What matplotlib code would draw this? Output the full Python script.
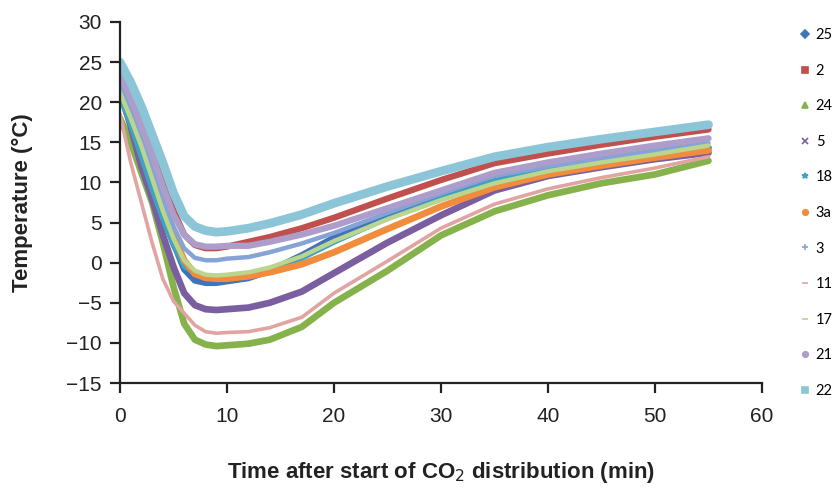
import matplotlib
matplotlib.use("Agg")
import matplotlib.pyplot as plt
from matplotlib.lines import Line2D

# Minutes after start of CO2 distribution
t = [0, 1, 2, 3, 4, 5, 6, 7, 8, 9, 10, 12, 14, 17, 20, 25, 30, 35, 40, 45, 50, 55]

s25 = [23.0, 19.0, 14.5, 10.0, 6.0, 2.5, -0.8, -2.2, -2.5, -2.5, -2.3, -1.9, -1.0, 0.9, 3.1, 5.9, 8.2, 10.1, 11.7, 12.6, 13.4, 14.3]
s2 = [24.5, 21.5, 18.0, 14.0, 10.0, 6.5, 3.5, 2.2, 1.8, 1.8, 2.0, 2.6, 3.2, 4.3, 5.6, 8.0, 10.3, 12.4, 13.6, 14.7, 15.7, 16.6]
s24 = [18.0, 15.0, 11.2, 7.5, 2.5, -3.0, -7.6, -9.6, -10.2, -10.4, -10.3, -10.1, -9.6, -8.0, -5.0, -1.0, 3.4, 6.4, 8.4, 9.9, 11.0, 12.7]
s5 = [21.5, 17.0, 12.0, 8.0, 3.5, -0.5, -3.8, -5.3, -5.8, -5.9, -5.8, -5.6, -5.0, -3.6, -1.3, 2.5, 5.9, 9.0, 10.8, 11.9, 12.9, 13.7]
s18 = [20.5, 17.0, 13.0, 9.0, 5.3, 2.0, -0.5, -1.4, -1.6, -1.7, -1.6, -1.3, -0.8, 0.5, 2.5, 5.5, 8.0, 10.2, 11.6, 12.6, 13.4, 14.2]
s3a = [22.5, 19.5, 15.5, 11.5, 7.5, 3.5, 0.3, -1.4, -1.9, -2.0, -2.0, -1.7, -1.2, -0.2, 1.3, 4.2, 7.0, 9.4, 11.0, 12.1, 13.1, 14.0]
s3 = [22.0, 19.0, 15.5, 11.8, 8.0, 4.5, 1.8, 0.6, 0.3, 0.3, 0.5, 0.7, 1.3, 2.4, 3.7, 6.2, 8.6, 10.8, 12.0, 13.0, 14.0, 14.9]
s11 = [18.5, 12.5, 7.5, 2.5, -2.0, -4.8, -6.3, -7.8, -8.6, -8.8, -8.7, -8.6, -8.1, -6.8, -3.8, 0.2, 4.3, 7.3, 9.2, 10.6, 11.8, 13.2]
s17 = [21.2, 18.0, 14.5, 10.5, 6.5, 3.0, 0.3, -1.0, -1.5, -1.6, -1.5, -1.2, -0.6, 0.8, 2.7, 5.4, 7.8, 9.9, 11.4, 12.5, 13.5, 14.6]
s21 = [23.5, 20.5, 17.0, 13.5, 9.5, 6.0, 3.5, 2.3, 2.0, 2.0, 2.1, 2.1, 2.6, 3.5, 4.6, 6.8, 9.0, 11.2, 12.5, 13.6, 14.6, 15.5]
s22 = [25.0, 22.5, 19.5, 16.0, 12.5, 8.7, 5.8, 4.5, 4.0, 3.8, 3.9, 4.3, 4.9, 6.0, 7.4, 9.5, 11.4, 13.2, 14.4, 15.4, 16.3, 17.2]

labels = ["25", "2", "24", "5", "18", "3a", "3", "11", "17", "21", "22"]
series = [s25, s2, s24, s5, s18, s3a, s3, s11, s17, s21, s22]
colors = ["#4073B8", "#C0504D", "#86B24B", "#7A5EA0", "#3FA3C0", "#F08C3C",
          "#85A3D6", "#E2A3A3", "#BAD58E", "#AD9DCB", "#8CC5D7"]
markers = ["D", "s", "^", "x", "*", "o", "+", "_", "_", "o", "s"]
widths = [4.8, 4.5, 4.8, 4.8, 3.2, 4.8, 3.2, 2.6, 3.2, 4.5, 6.3]

txt = "#222222"
sans = ["Liberation Sans", "DejaVu Sans"]

fig = plt.figure(figsize=(8.32, 4.93), dpi=100)
ax = fig.add_axes([0.1442, 0.2231, 0.7717, 0.7323])

for y, c, w in zip(series, colors, widths):
    ax.plot(t, y, color=c, lw=w, solid_capstyle="round", solid_joinstyle="round")

ax.set_xlim(0, 60)
ax.set_ylim(-15, 30)
ax.set_xticks(range(0, 61, 10))
ax.set_yticks(range(-15, 31, 5))
for s in ["top", "right"]:
    ax.spines[s].set_visible(False)
for s in ["left", "bottom"]:
    ax.spines[s].set_linewidth(1.6)
    ax.spines[s].set_color(txt)
ax.tick_params(direction="out", length=7, width=1.6, colors=txt, labelsize=15)
ax.tick_params(axis="x", pad=10)
ax.tick_params(axis="y", pad=6)
for lab in ax.get_xticklabels() + ax.get_yticklabels():
    lab.set_family(sans)

ax.set_xlabel("Time after start of CO$_2$ distribution (min)", family=sans,
              fontsize=16, fontweight="bold", color=txt, labelpad=25)
ax.set_ylabel("Temperature (°C)", family=sans, fontsize=16,
              fontweight="bold", color=txt, labelpad=24)

handles = [Line2D([], [], color=c, marker=m, linestyle="none", markersize=4,
                  markeredgewidth=1.2)
           for c, m in zip(colors, markers)]
fig.legend(handles, labels, loc="upper left", bbox_to_anchor=(0.962, 0.943),
           frameon=False, handlelength=0.6, handletextpad=0.45,
           labelspacing=1.48, borderaxespad=0, borderpad=0,
           prop={"family": ["Lato", "DejaVu Sans"], "size": 10.5})

fig.savefig("out.png", dpi=100)
